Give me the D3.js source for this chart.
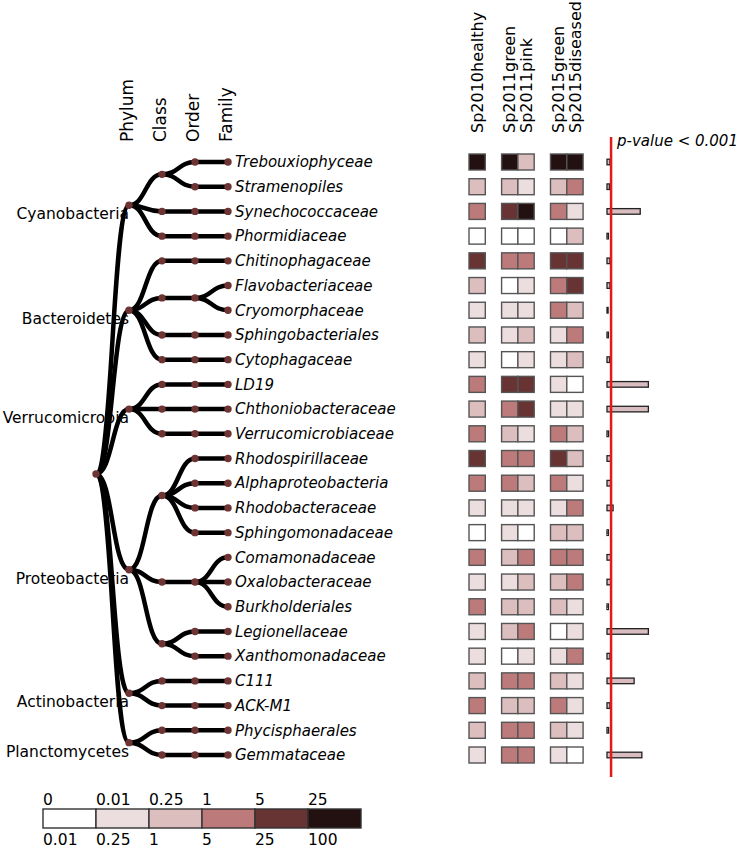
<meta charset="utf-8">
<head>
  <script src="https://d3js.org/d3.v7.min.js"></script>
  <style>
    body { margin: 0; background: #fff; }
    text { font-family: "DejaVu Sans", sans-serif; fill: #000; }
  </style>
</head>
<body>
<svg id="svg" width="740" height="848"></svg>
<script>
  // families, top to bottom
  const families = ["Trebouxiophyceae", "Stramenopiles", "Synechococcaceae", "Phormidiaceae",
    "Chitinophagaceae", "Flavobacteriaceae", "Cryomorphaceae", "Sphingobacteriales", "Cytophagaceae",
    "LD19", "Chthoniobacteraceae", "Verrucomicrobiaceae",
    "Rhodospirillaceae", "Alphaproteobacteria", "Rhodobacteraceae", "Sphingomonadaceae",
    "Comamonadaceae", "Oxalobacteraceae", "Burkholderiales", "Legionellaceae", "Xanthomonadaceae",
    "C111", "ACK-M1", "Phycisphaerales", "Gemmataceae"];
  const phylumOf = ["Cyanobacteria", "Cyanobacteria", "Cyanobacteria", "Cyanobacteria",
    "Bacteroidetes", "Bacteroidetes", "Bacteroidetes", "Bacteroidetes", "Bacteroidetes",
    "Verrucomicrobia", "Verrucomicrobia", "Verrucomicrobia",
    "Proteobacteria", "Proteobacteria", "Proteobacteria", "Proteobacteria",
    "Proteobacteria", "Proteobacteria", "Proteobacteria", "Proteobacteria", "Proteobacteria",
    "Actinobacteria", "Actinobacteria", "Planctomycetes", "Planctomycetes"];
  // unnamed class / order groups (as drawn in the tree)
  const classOf = [1, 1, 2, 3, 4, 5, 5, 6, 7, 8, 9, 10, 11, 11, 11, 11, 12, 12, 12, 13, 13, 14, 15, 16, 17];
  const orderOf = [1, 2, 3, 4, 5, 6, 6, 7, 8, 9, 10, 11, 12, 13, 14, 15, 16, 16, 16, 17, 18, 19, 20, 21, 22];
  const ranks = ["Phylum", "Class", "Order", "Family"];

  // abundance bins (0: 0-0.01, 1: 0.01-0.25, 2: 0.25-1, 3: 1-5, 4: 5-25, 5: 25-100)
  const samples = ["Sp2010healthy", "Sp2011green", "Sp2011pink", "Sp2015green", "Sp2015diseased"];
  const sampleYear = ["Sp2010", "Sp2011", "Sp2011", "Sp2015", "Sp2015"];
  const sp2010healthy = [5, 2, 3, 0, 4, 2, 1, 2, 1, 3, 2, 3, 4, 3, 1, 0, 3, 1, 3, 1, 1, 2, 3, 2, 1];
  const sp2011green   = [5, 2, 4, 0, 3, 0, 1, 1, 0, 4, 3, 2, 3, 3, 1, 1, 2, 1, 2, 2, 0, 3, 2, 3, 3];
  const sp2011pink    = [2, 1, 5, 0, 3, 1, 1, 2, 1, 4, 4, 1, 3, 2, 1, 0, 3, 2, 2, 3, 1, 3, 2, 3, 3];
  const sp2015green   = [5, 2, 3, 0, 4, 3, 3, 1, 1, 1, 1, 3, 4, 3, 1, 2, 3, 2, 2, 0, 1, 2, 3, 2, 1];
  const sp2015diseased= [5, 3, 1, 2, 4, 4, 2, 3, 2, 0, 1, 2, 2, 1, 3, 2, 3, 3, 1, 1, 3, 1, 1, 1, 0];
  const binLow  = ["0", "0.01", "0.25", "1", "5", "25"];
  const binHigh = ["0.01", "0.25", "1", "5", "25", "100"];
  const binColors = ["#ffffff", "#ecdedf", "#dcbebf", "#bc7a7a", "#673333", "#231010"];

  // significance score per family (-log10 p), threshold p < 0.001
  const score = [2.2, 1.8, 24.5, 1.0, 2.2, 2.2, 0.8, 1.0, 2.0, 30.5, 30.5, 1.2,
    3.0, 3.0, 4.5, 1.0, 3.0, 3.0, 1.0, 30.5, 2.2, 20.0, 2.2, 1.2, 25.7];
  const threshold = 3;

  const svg = d3.select("#svg");
  const sampleValues = [sp2010healthy, sp2011green, sp2011pink, sp2015green, sp2015diseased];

  const rowY = d3.scalePoint().domain(families).range([162, 755]);
  const depthX = d3.scaleLinear().domain([0, 4]).range([96, 228]);

  // ---- tree ----
  const rows = families.map((f, i) => ({name: f, phylum: phylumOf[i], cls: "c" + classOf[i], ord: "o" + orderOf[i]}));
  const grouped = d3.group(rows, d => d.phylum, d => d.cls, d => d.ord);
  const root = d3.hierarchy([null, grouped], d => {
    if (!Array.isArray(d)) return null;
    return d[1] instanceof Map ? Array.from(d[1]) : d[1];
  });
  root.eachAfter(n => {
    n.px = depthX(n.depth);
    if (!n.children) n.py = rowY(n.data.name);
    else n.py = (n.children[0].py + n.children[n.children.length - 1].py) / 2;
  });

  const treeG = svg.append("g");
  // phylum labels sit under the branches
  treeG.selectAll("text.phylum")
    .data(root.descendants().filter(n => n.depth == 1))
    .enter().append("text")
    .attr("x", n => n.px)
    .attr("y", n => n.py + 14)
    .attr("text-anchor", "end")
    .style("font-size", "15.5px")
    .text(n => n.data[0]);

  const link = d3.linkHorizontal().x(n => n.px).y(n => n.py);
  treeG.selectAll("path")
    .data(root.links())
    .enter().append("path")
    .attr("d", link)
    .attr("fill", "none")
    .attr("stroke", "#000")
    .attr("stroke-width", 4.5);

  treeG.selectAll("circle")
    .data(root.descendants())
    .enter().append("circle")
    .attr("cx", n => n.px)
    .attr("cy", n => n.py)
    .attr("r", 3.7)
    .attr("fill", "#6e3333");

  treeG.selectAll("text.leaf")
    .data(root.leaves())
    .enter().append("text")
    .attr("x", n => n.px + 7)
    .attr("y", n => n.py)
    .attr("dy", "0.35em")
    .style("font-size", "15px")
    .style("font-style", "italic")
    .text(n => n.data.name);

  svg.selectAll("text.rank")
    .data(ranks)
    .enter().append("text")
    .attr("transform", (r, i) => `translate(${depthX(i + 1) - 2},142) rotate(-90)`)
    .attr("dy", "0.35em")
    .style("font-size", "17px")
    .text(r => r);

  // ---- heatmap ----
  const cellW = 16.3, cellH = 16;
  let slot = 0;
  const sampleX = samples.map((s, i) => {
    if (i > 0) slot += sampleYear[i] == sampleYear[i - 1] ? 1 : 2;
    return 469 + slot * cellW;
  });
  const color = d3.scaleOrdinal().domain(d3.range(6)).range(binColors);

  const heat = svg.append("g");
  samples.forEach((s, j) => {
    heat.selectAll("rect.s" + j)
      .data(sampleValues[j])
      .enter().append("rect")
      .attr("x", sampleX[j])
      .attr("y", (v, i) => rowY(families[i]) - cellH / 2)
      .attr("width", cellW)
      .attr("height", cellH)
      .attr("fill", v => color(v))
      .attr("stroke", "#555")
      .attr("stroke-width", 1.4);
    heat.append("text")
      .attr("transform", `translate(${sampleX[j] + cellW / 2},133) rotate(-90)`)
      .attr("dy", "0.35em")
      .style("font-size", "16px")
      .text(s);
  });

  // ---- significance bars ----
  const xBar = d3.scaleLinear().domain([0, 30]).range([607, 647.7]);
  svg.append("g").selectAll("rect")
    .data(score)
    .enter().append("rect")
    .attr("x", xBar(0))
    .attr("y", (v, i) => rowY(families[i]) - 2.8)
    .attr("width", v => xBar(v) - xBar(0))
    .attr("height", 5.6)
    .attr("fill", "#d8bcc0")
    .attr("stroke", "#222")
    .attr("stroke-width", 1.3);

  svg.append("line")
    .attr("x1", xBar(threshold)).attr("x2", xBar(threshold))
    .attr("y1", 137).attr("y2", 777)
    .attr("stroke", "#e31a1c")
    .attr("stroke-width", 2.5);
  svg.append("text")
    .attr("x", 617).attr("y", 146)
    .style("font-size", "15px")
    .style("font-style", "italic")
    .text("p-value < 0.001");

  // ---- legend ----
  const legX = d3.scaleBand().domain(d3.range(6)).range([43, 361]);
  const leg = svg.append("g");
  leg.selectAll("rect")
    .data(d3.range(6))
    .enter().append("rect")
    .attr("x", b => legX(b))
    .attr("y", 809)
    .attr("width", legX.bandwidth())
    .attr("height", 19)
    .attr("fill", b => color(b))
    .attr("stroke", "#333")
    .attr("stroke-width", 1.4);
  leg.selectAll("text.lo")
    .data(binLow)
    .enter().append("text")
    .attr("x", (t, i) => legX(i))
    .attr("y", 805)
    .style("font-size", "15.5px")
    .text(t => t);
  leg.selectAll("text.hi")
    .data(binHigh)
    .enter().append("text")
    .attr("x", (t, i) => legX(i))
    .attr("y", 845)
    .style("font-size", "15.5px")
    .text(t => t);
</script>
</body>
